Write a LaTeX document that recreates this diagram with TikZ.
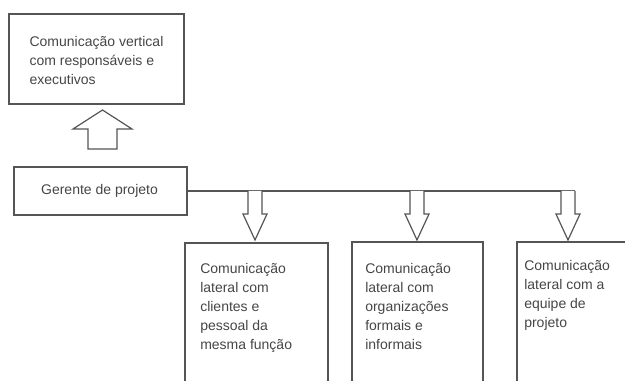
\documentclass[tikz,border=0pt]{standalone}
\usepackage{fontspec}
\setmainfont{Liberation Sans}
\usetikzlibrary{fit}
\definecolor{linegray}{RGB}{85,85,85}
\definecolor{textgray}{RGB}{70,70,70}
\begin{document}
\begin{tikzpicture}[x=0.75pt,y=-0.75pt,
  box/.style={draw=linegray, line width=0.9pt, inner sep=0pt},
  txt/.style={font=\fontsize{10.5}{14.25}\selectfont, text=textgray, align=left, inner sep=0pt},
  blockarrow/.style={draw=linegray, line width=0.9pt, line join=miter, fill=white},
  downarrow/.pic={\draw[blockarrow] (-7,0) -- (-7,23) -- (-12,23) -- (0,49) -- (12,23) -- (7,23) -- (7,0);}
]
\useasboundingbox (0,0) rectangle (625,381);
\clip (0,0) rectangle (625,381);
\fill[white] (0,0) rectangle (625,381);

% top box
\coordinate (tA) at (9,14);
\coordinate (tB) at (184,104);
\node[box, fit=(tA)(tB)] (top) {};
\node[txt] (toptext) at (96.5,60) {Comunicação vertical\\com responsáveis e\\executivos};

% manager box
\coordinate (gA) at (14,167);
\coordinate (gB) at (187,215);
\node[box, fit=(gA)(gB)] (ger) {};
\node[txt] (gertext) at (99.5,191) {Gerente de projeto};

% bottom boxes (cut at the picture's edge)
\coordinate (b1A) at (185,243);
\coordinate (b1B) at (328,420);
\node[box, fit=(b1A)(b1B)] (b1) {};
\coordinate (b2A) at (352,242);
\coordinate (b2B) at (483,420);
\node[box, fit=(b2A)(b2B)] (b2) {};
\coordinate (b3A) at (517,242);
\coordinate (b3B) at (660,420);
\node[box, fit=(b3A)(b3B)] (b3) {};

\node[txt, anchor=north west] (t1) at (200,263)
  {Comunicação\\lateral com\\clientes e\\pessoal da\\mesma função};
\node[txt, anchor=north west] (t2) at (365,263)
  {Comunicação\\lateral com\\organizações\\formais e\\informais};
\node[txt, anchor=north west] (t3) at (524,260)
  {Comunicação\\lateral com a\\equipe de\\projeto};

% up block arrow between manager and top box
\draw[blockarrow] (88,149) -- (88,129) -- (73,129) -- (102.5,110) -- (132,129) -- (117,129) -- (117,149) -- cycle;

% horizontal line from manager
\coordinate (lineEnd) at (575,191);
\draw[linegray, line width=0.9pt] (ger.east |- 0,191) -- (lineEnd);

% down block arrows
\coordinate (a1) at (255,191);
\coordinate (a2) at (417,191);
\coordinate (a3) at (568,191);
\pic at (a1) {downarrow};
\pic at (a2) {downarrow};
\pic at (a3) {downarrow};
\end{tikzpicture}
\end{document}
